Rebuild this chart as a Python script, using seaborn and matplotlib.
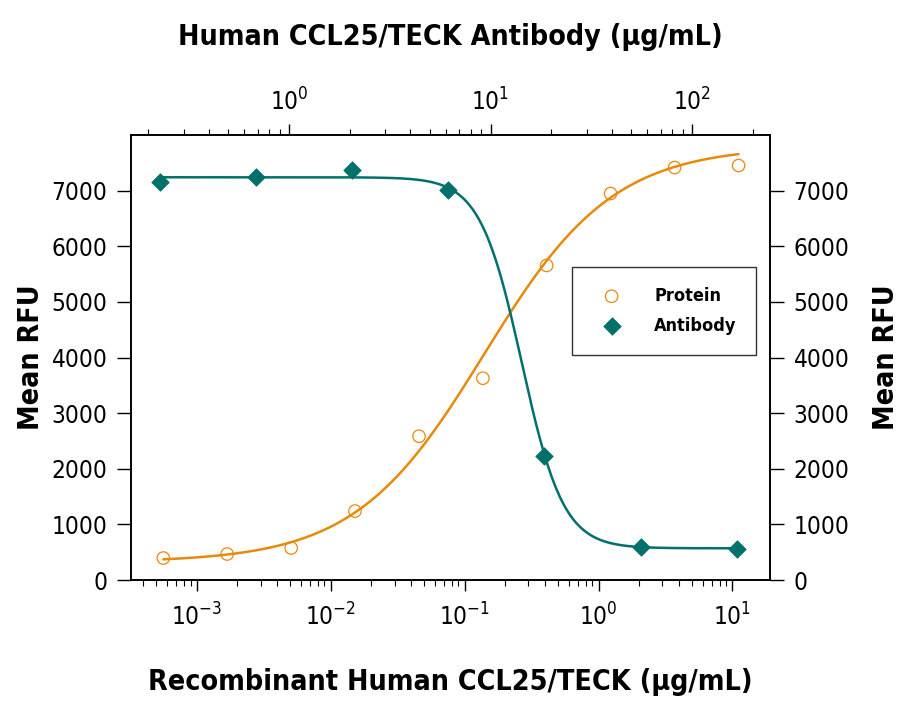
import numpy as np
import pandas as pd
import matplotlib
matplotlib.use("Agg")
import matplotlib.pyplot as plt
import matplotlib.font_manager as fm
import seaborn as sns
from matplotlib.ticker import LogLocator, NullFormatter, FixedLocator

# ---- data ----
protein_conc = [0.000564, 0.00169, 0.00508, 0.0152, 0.0457, 0.137, 0.41, 1.23, 3.7, 11.1]
protein_rfu = [395, 467, 575, 1239, 2585, 3627, 5655, 6948, 7415, 7451]
antibody_conc = [0.229, 0.686, 2.06, 6.17, 18.5, 55.6, 167]
antibody_rfu = [7163, 7253, 7379, 7020, 2226, 593, 557]
# 4PL fit parameters (bottom, top, EC50/IC50, hill; negative hill = decreasing)
protein_fit = [320, 7800, 0.14, 0.9]
antibody_fit = [570, 7240, 14.3, -4.2]
yticks = [0, 1000, 2000, 3000, 4000, 5000, 6000, 7000]

ORANGE = "#E8890C"
TEAL = "#00716A"

sns.set_theme(style="white")

# pick a condensed/narrow font if available
names = {f.name for f in fm.fontManager.ttflist}
family, stretch = "DejaVu Sans", "normal"
if "Liberation Sans Narrow" in names:
    family, stretch = "Liberation Sans Narrow", "condensed"
else:
    cond = [f for f in fm.fontManager.ttflist
            if (f.stretch in ("condensed", "semi-condensed", "extra-condensed")
                or (isinstance(f.stretch, int) and f.stretch < 500))]
    for pref in ("DejaVu Sans", "Roboto", "Open Sans", "Noto Sans"):
        if any(f.name == pref for f in cond):
            family, stretch = pref, "condensed"
            break

plt.rcParams["font.family"] = [family, "DejaVu Sans"]
plt.rcParams["font.stretch"] = stretch
plt.rcParams["mathtext.default"] = "regular"
for k in ("text.color", "axes.labelcolor", "xtick.color", "ytick.color"):
    plt.rcParams[k] = "black"

LABEL_SIZE = 20.5
TICK_SIZE = 17.5

fig = plt.figure(figsize=(9.15, 7.08), dpi=100)
ax = fig.add_axes([131/915, 1-580/708, 639/915, 445/708])
ax2 = ax.twiny()

def fourpl(x, p):
    b, t, c, h = p
    return b + (t - b) / (1 + (c / x) ** h)

xp = np.logspace(np.log10(protein_conc[0]), np.log10(protein_conc[-1]), 300)
xa = np.logspace(np.log10(antibody_conc[0]), np.log10(antibody_conc[-1]), 300)
curve_p = pd.DataFrame({"x": xp, "y": fourpl(xp, protein_fit)})
curve_a = pd.DataFrame({"x": xa, "y": fourpl(xa, antibody_fit)})
pts_p = pd.DataFrame({"x": protein_conc, "y": protein_rfu})
pts_a = pd.DataFrame({"x": antibody_conc, "y": antibody_rfu})

sns.lineplot(data=curve_p, x="x", y="y", ax=ax, color=ORANGE, lw=1.8, legend=False)
sns.scatterplot(data=pts_p, x="x", y="y", ax=ax, marker="o", s=80,
                facecolor="none", edgecolor=ORANGE, linewidth=0.9, label="Protein", zorder=5)
sns.lineplot(data=curve_a, x="x", y="y", ax=ax2, color=TEAL, lw=1.8, legend=False)
sns.scatterplot(data=pts_a, x="x", y="y", ax=ax2, marker="D", s=80,
                color=TEAL, edgecolor=TEAL, linewidth=0.5, label="Antibody", zorder=5)

ax.set_xscale("log")
ax2.set_xscale("log")
ax.set_xlim(10**-3.49, 10**1.28)
ax2.set_xlim(10**-0.784, 10**2.387)
ax.set_ylim(0, 8000)
ax.yaxis.set_major_locator(FixedLocator(yticks))

for a in (ax, ax2):
    for s in a.spines.values():
        s.set_color("black")
        s.set_linewidth(1.2)
    a.xaxis.set_major_locator(LogLocator(base=10, numticks=20))
    a.xaxis.set_minor_locator(LogLocator(base=10, subs=np.arange(2, 10), numticks=20))
    a.xaxis.set_minor_formatter(NullFormatter())

ax.tick_params(axis="x", which="major", direction="out", length=8, width=1, labelsize=TICK_SIZE, pad=9, bottom=True)
ax.tick_params(axis="x", which="minor", direction="out", length=4, width=0.8, bottom=True)
ax.tick_params(axis="y", direction="out", length=10, width=1, labelsize=TICK_SIZE, left=True, right=True,
               labelleft=True, labelright=True, pad=7)
ax2.tick_params(axis="x", which="major", direction="out", length=8, width=1, labelsize=TICK_SIZE, pad=6, top=True)
ax2.tick_params(axis="x", which="minor", direction="out", length=4, width=0.8, top=True)

ax.set_xlabel("Recombinant Human CCL25/TECK (\u03bcg/mL)", fontsize=LABEL_SIZE, fontweight="bold", labelpad=27)
ax2.set_xlabel("Human CCL25/TECK Antibody (\u03bcg/mL)", fontsize=LABEL_SIZE, fontweight="bold", labelpad=31)
ax.set_ylabel("")
fig.text(31/915, 1-357/708, "Mean RFU", rotation=90, ha="center", va="center",
         fontsize=LABEL_SIZE, fontweight="bold")
fig.text(886/915, 1-357/708, "Mean RFU", rotation=90, ha="center", va="center",
         fontsize=LABEL_SIZE, fontweight="bold")

h1, l1 = ax.get_legend_handles_labels()
h2, l2 = ax2.get_legend_handles_labels()
if ax.get_legend():
    ax.get_legend().remove()
if ax2.get_legend():
    ax2.get_legend().remove()
leg = ax2.legend(h1 + h2, l1 + l2, loc="upper left", bbox_to_anchor=(0.690, 0.703),
                 frameon=True, fancybox=False, edgecolor="black",
                 prop={"weight": "bold", "size": 13}, handletextpad=1.25, borderpad=1.1,
                 labelspacing=0.65, borderaxespad=0, handlelength=2.2)
leg.get_frame().set_linewidth(1.0)

fig.savefig("out.png", dpi=100)
